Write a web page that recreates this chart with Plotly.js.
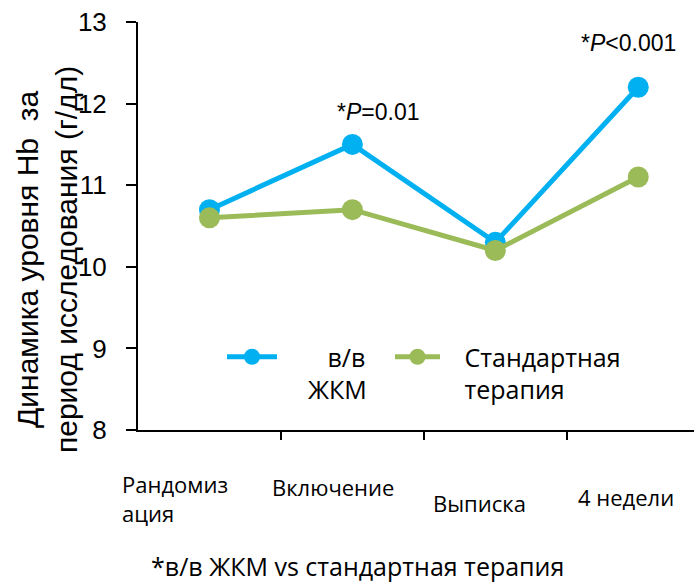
<!DOCTYPE html>
<html>
<head>
<meta charset="utf-8">
<script src="https://cdn.plot.ly/plotly-3.0.1.min.js"></script>
<style>
  html, body { margin: 0; padding: 0; background: #fff; }
  #chart { width: 694px; height: 586px; }
</style>
</head>
<body>
<div id="chart"></div>
<script>
// Time points of the study
const categories = ['Рандомиз<br>ация', 'Включение', 'Выписка', '4 недели'];
// Haemoglobin level, g/dL
const ivIron = [10.7, 11.5, 10.3, 12.2];
const standardTherapy = [10.6, 10.7, 10.2, 11.1];
// Significance notes above the IV iron series
const pNotes = ['', '*<i>P</i>=0.01', '', '*<i>P</i><0.001'];
const yTicks = [8, 9, 10, 11, 12, 13];

const xIdx = categories.map((_, i) => i);
const sans = 'Liberation Sans, Arial, sans-serif';
const body = 'Open Sans, Noto Sans, sans-serif';
const nb = n => '\u00a0'.repeat(n);

// Plot area geometry (px) used to place free text in paper units
const PL = 138, PW = 556, PB = 430, PH = 408;
const px = v => (v - PL) / PW;
const py = v => (PB - v) / PH;

const traces = [
  {
    x: xIdx, y: ivIron, name: nb(7) + 'в/в<br>' + nb(4) + 'ЖКМ', mode: 'lines+markers',
    line: { color: '#00B0F0', width: 5 },
    marker: { color: '#00B0F0', size: 21 },
    legend: 'legend'
  },
  {
    x: xIdx, y: standardTherapy, name: nb(3) + 'Стандартная<br>' + nb(3) + 'терапия',
    mode: 'lines+markers',
    line: { color: '#9BBB59', width: 5 },
    marker: { color: '#9BBB59', size: 21 },
    legend: 'legend2'
  }
];

// Category labels under the axis, staggered text boxes
const labelShiftX = [-89.5, -19.5, -15.5, -12.5];
const labelShiftY = [-68, -57, -73, -67];
const annotations = categories.map((c, i) => ({
  x: i, xref: 'x', y: 8, yref: 'y',
  xshift: labelShiftX[i], yshift: labelShiftY[i],
  text: c, showarrow: false, align: 'left',
  xanchor: i === 0 ? 'left' : 'center', yanchor: 'middle',
  font: { family: body, size: 22, color: '#000' }
}));

// P-value notes
const noteShiftX = [0, 26, 0, -10];
const noteShiftY = [0, 32, 0, 44];
pNotes.forEach((t, i) => {
  if (!t) return;
  annotations.push({
    x: i, xref: 'x', y: ivIron[i], yref: 'y',
    xshift: noteShiftX[i], yshift: noteShiftY[i],
    text: t, showarrow: false, xanchor: 'center', yanchor: 'middle',
    font: { family: sans, size: 23, color: '#000' }
  });
});

// Y axis title in two lines
annotations.push({
  x: px(47), xref: 'paper', y: py(260), yref: 'paper',
  text: 'Динамика уровня Hb  за<br>период исследования (г/дл)',
  textangle: -90, showarrow: false, xanchor: 'center', yanchor: 'middle',
  font: { family: sans, size: 30, color: '#000' }
});

// Footnote
annotations.push({
  x: px(357), xref: 'paper', y: py(566), yref: 'paper', showarrow: false,
  xanchor: 'center', yanchor: 'middle',
  text: '*в/в ЖКМ vs стандартная терапия',
  font: { family: body, size: 25, color: '#000' }
});

const legendFont = { family: body, size: 25, color: '#000' };
const layout = {
  width: 694, height: 586,
  margin: { l: PL, r: 0, t: 22, b: 156 },
  paper_bgcolor: '#fff', plot_bgcolor: '#fff',
  showlegend: true,
  legend: {
    x: px(222), y: py(334), xanchor: 'left', yanchor: 'top',
    orientation: 'v', font: legendFont, valign: 'top', bgcolor: 'rgba(0,0,0,0)',
    itemwidth: 50
  },
  legend2: {
    x: px(390), y: py(334), xanchor: 'left', yanchor: 'top',
    orientation: 'v', font: legendFont, valign: 'top', bgcolor: 'rgba(0,0,0,0)',
    itemwidth: 45
  },
  xaxis: {
    range: [-0.5, 3.39], showgrid: false, zeroline: false,
    showline: true, linecolor: '#000', linewidth: 2,
    tickvals: [0.5, 1.5, 2.5], ticktext: ['', '', ''],
    ticks: 'outside', ticklen: 8, tickwidth: 2, tickcolor: '#000',
    fixedrange: true
  },
  yaxis: {
    range: [8, 13], showgrid: false, zeroline: false,
    showline: true, linecolor: '#000', linewidth: 2,
    tickvals: yTicks, ticks: 'outside', ticklen: 10, tickwidth: 2, tickcolor: '#000',
    ticklabelstandoff: 14,
    tickfont: { family: sans, size: 26, color: '#000' },
    fixedrange: true
  },
  annotations: annotations
};

Plotly.newPlot('chart', traces, layout, { displayModeBar: false, staticPlot: true });
</script>
</body>
</html>
